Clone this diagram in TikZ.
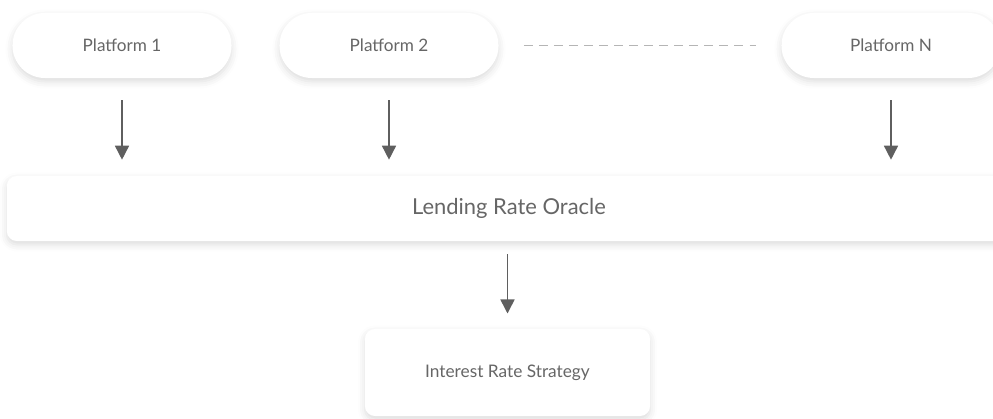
\documentclass[tikz,border=0pt]{standalone}
\usepackage{fontspec}
\setmainfont{Lato}
\usepackage{tikz}
\usetikzlibrary{arrows.meta, shadows.blur}
\definecolor{txtgray}{HTML}{666666}
\definecolor{arrgray}{HTML}{5F5F5F}
\definecolor{dashgray}{HTML}{B5B5B5}
\begin{document}
\begin{tikzpicture}[x=0.025cm, y=-0.025cm,
  box/.style={fill=white, text=txtgray, blur shadow={shadow xshift=0pt, shadow yshift=-2.5pt, shadow blur radius=5pt, shadow opacity=14}},
  platform/.style={box, rounded corners=0.81cm, minimum width=5.475cm, minimum height=1.625cm, font=\fontsize{12.2}{14}\selectfont},
  flow/.style={draw=arrgray, line width=1.1pt, -{Triangle[width=10pt, length=10pt]}}]
\useasboundingbox (0,0) rectangle (993,419);
\node[platform] (P1) at (122,45.5) {Platform 1};
\node[platform] (P2) at (389,45.5) {Platform 2};
\node[platform] (PN) at (891,45.5) {Platform N};
\node[box, rounded corners=7pt, minimum width=25.1cm, minimum height=1.625cm, font=\fontsize{15.6}{18}\selectfont] (LRO) at (509,208.5) {Lending Rate Oracle};
\node[box, rounded corners=7pt, minimum width=7.125cm, minimum height=2.175cm, font=\fontsize{12.3}{14}\selectfont] (IRS) at (507.5,372.5) {Interest Rate Strategy};
\draw[dashgray, line width=1.1pt, dash pattern=on 6.3pt off 4.4pt, shorten <=0.625cm, shorten >=0.625cm] (P2) -- (PN);
\foreach \p in {P1, P2, PN}
  \draw[flow, shorten <=0.55cm, shorten >=0.4cm] (\p.south) -- (\p.south |- LRO.north);
\draw[flow, shorten <=0.33cm, shorten >=0.38cm] (LRO.south -| IRS.north) -- (IRS.north);
\end{tikzpicture}
\end{document}
